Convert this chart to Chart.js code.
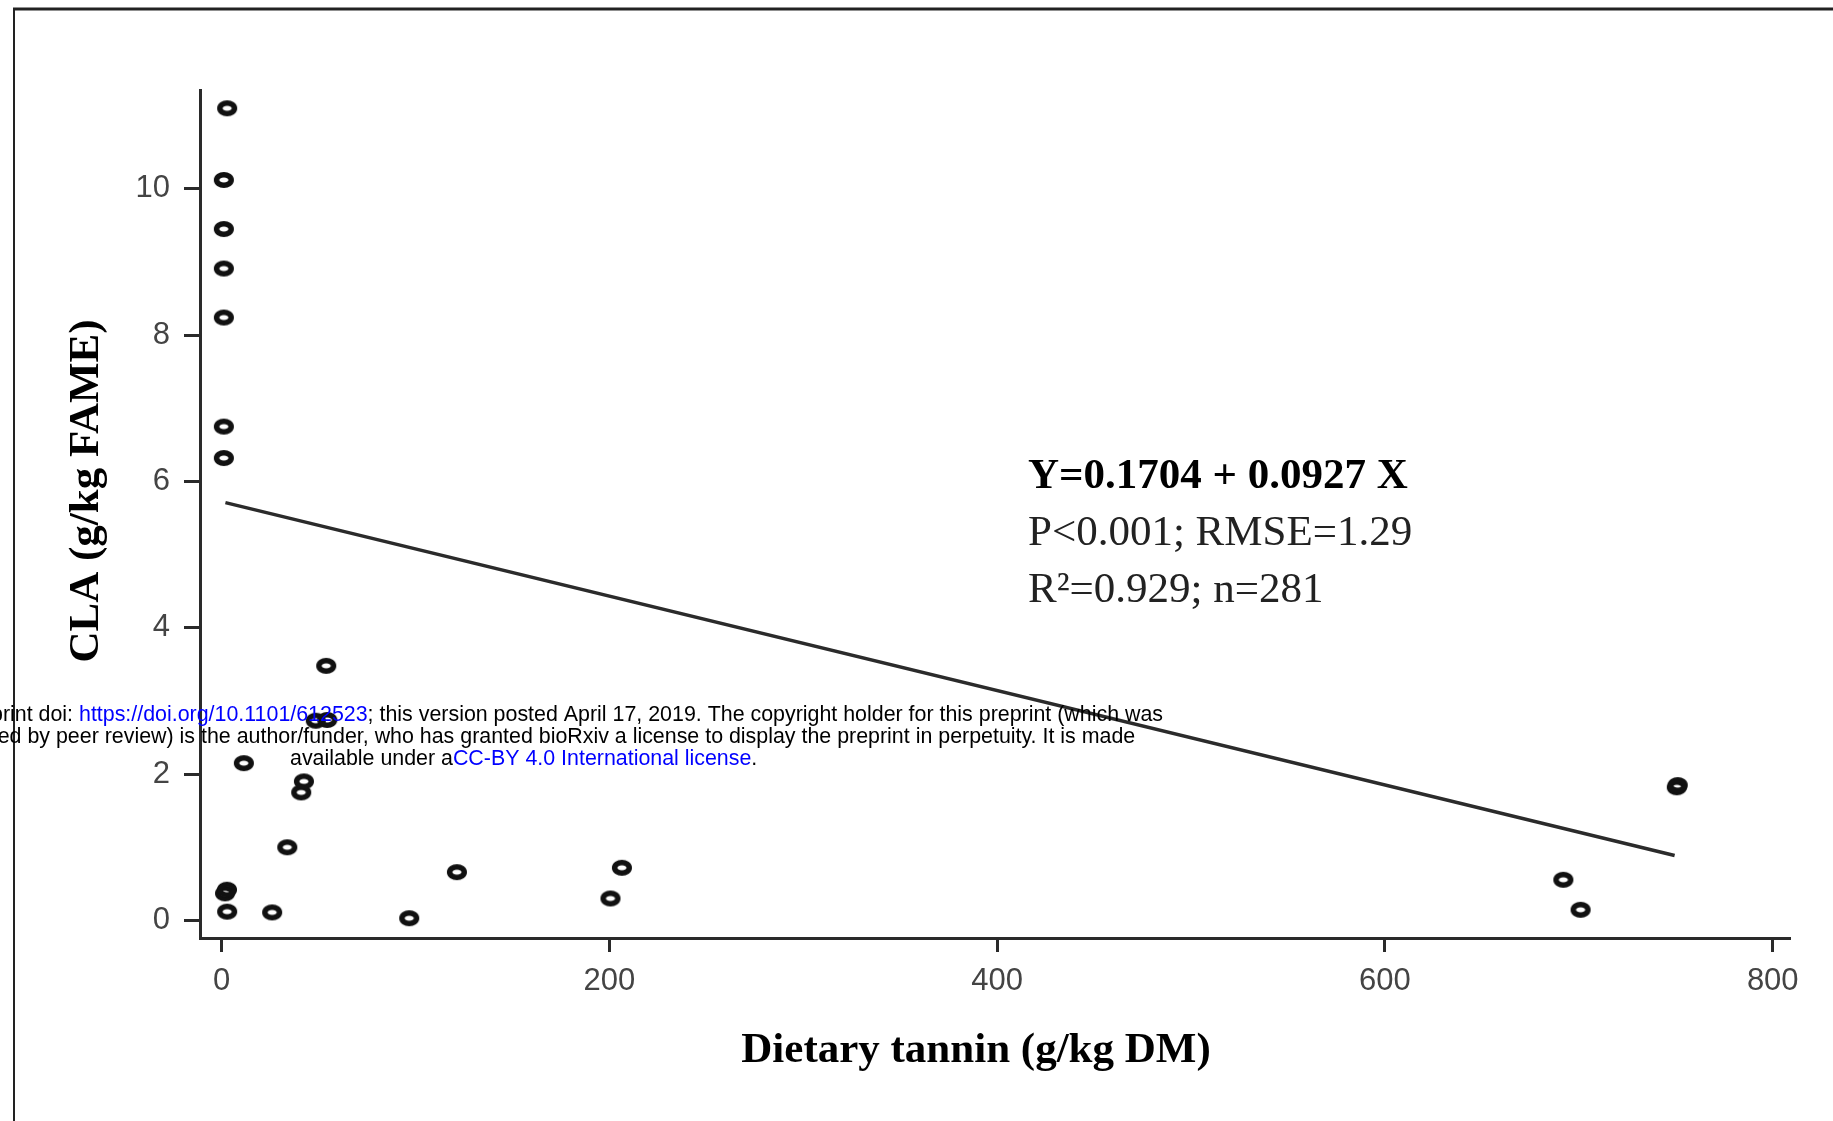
<!DOCTYPE html>
<html>
<head>
<meta charset="utf-8">
<title>CLA vs dietary tannin</title>
<script src="https://cdn.jsdelivr.net/npm/chart.js@4.4.1/dist/chart.umd.min.js"></script>
<style>
  html, body { margin: 0; padding: 0; background: #fff; }
  #wrap { width: 1833px; height: 1121px; }
</style>
</head>
<body>
<div id="wrap"><canvas id="grafico" width="1833" height="1121"></canvas></div>
<script>
// values
const tanninX = [2.9, 1.2, 1.2, 1.2, 1.2, 1.2, 1.2,
  1.8, 2.8, 2.9, 11.5, 26.1, 33.9, 41.1, 42.5, 48.6, 54.5, 54.0,
  96.8, 121.4, 200.6, 206.5, 692, 700.9, 750.5, 751];
const claY = [11.10, 10.12, 9.45, 8.91, 8.24, 6.75, 6.32,
  0.37, 0.42, 0.12, 2.15, 0.11, 1.00, 1.75, 1.90, 2.73, 2.74, 3.48,
  0.03, 0.66, 0.30, 0.72, 0.556, 0.146, 1.82, 1.85];

const fitX = [2, 749.4];
const fitY = [5.71, 0.888];

const xTicks = [0, 200, 400, 600, 800];
const yTicks = [0, 2, 4, 6, 8, 10];

const xTitle = "Dietary tannin (g/kg DM)";
const yTitle = "CLA (g/kg FAME)";
const statLines = ["Y=0.1704 + 0.0927 X", "P<0.001; RMSE=1.29", "R²=0.929; n=281"];

const BLUE = "rgb(0, 0, 255)";
const noticeLines = [
  [["bioRxiv preprint doi: ", "#000"], ["https://doi.org/10.1101/612523", BLUE],
   ["; this version posted April 17, 2019. The copyright holder for this preprint (which was", "#000"]],
  [["not certified by peer review) is ", "#000"],
   ["the author/funder, who has granted bioRxiv a license to display the preprint in perpetuity. It is made", "#000"]],
  [["available under a", "#000"], ["CC-BY 4.0 International license", BLUE], [".", "#000"]]
];

function makeMarker() {
  const c = document.createElement("canvas");
  c.width = 26;
  c.height = 22;
  const g = c.getContext("2d");
  g.beginPath();
  g.ellipse(13, 11, 7.3, 5.2, 0, 0, Math.PI * 2);
  g.lineWidth = 5.5;
  g.strokeStyle = "#111";
  g.stroke();
  return c;
}

function drawRuns(g, x, y, runs) {
  for (const [txt, cor] of runs) {
    g.fillStyle = cor;
    g.fillText(txt, x, y);
    x += g.measureText(txt).width;
  }
}

// white page with the scanned frame lines
const pagePlugin = {
  id: "page",
  beforeDraw(chart) {
    const g = chart.ctx;
    g.save();
    g.fillStyle = "#fff";
    g.fillRect(0, 0, chart.width, chart.height);
    g.strokeStyle = "#222";
    g.lineWidth = 3;
    g.beginPath();
    g.moveTo(13, 9);
    g.lineTo(chart.width, 9);
    g.stroke();
    g.lineWidth = 2;
    g.beginPath();
    g.moveTo(14, 9);
    g.lineTo(14, chart.height);
    g.stroke();
    g.restore();
  }
};

const textPlugin = {
  id: "texts",
  afterDraw(chart) {
    const g = chart.ctx;
    g.save();

    // axis titles
    g.fillStyle = "#000";
    g.font = "bold 43px 'Liberation Serif'";
    g.textAlign = "center";
    g.textBaseline = "middle";
    g.fillText(xTitle, 976, 1051);
    g.save();
    g.translate(87, 491);
    g.rotate(-Math.PI / 2);
    g.fillText(yTitle, 0, 0);
    g.restore();

    g.textBaseline = "alphabetic";
    g.textAlign = "left";

    // regression stats
    g.fillStyle = "#000";
    g.font = "bold 43px 'Liberation Serif'";
    g.fillText(statLines[0], 1028, 488);
    g.fillStyle = "#222";
    g.font = "43px 'Liberation Serif'";
    g.fillText(statLines[1], 1028, 545);
    g.fillText(statLines[2], 1028, 602);

    // bioRxiv notice laid over the figure
    g.font = "21.4px 'Liberation Sans'";
    const x1 = 79 - g.measureText(noticeLines[0][0][0]).width;
    const x2 = 201 - g.measureText(noticeLines[1][0][0]).width;
    drawRuns(g, x1, 721, noticeLines[0]);
    drawRuns(g, x2, 743, noticeLines[1]);
    drawRuns(g, 290, 765, noticeLines[2]);
    g.restore();
  }
};

const points = tanninX.map((x, i) => ({ x: x, y: claY[i] }));
const fitPoints = fitX.map((x, i) => ({ x: x, y: fitY[i] }));

const axisColor = "#2a2a2a";
const tickFont = { family: "'Liberation Sans'", size: 31 };

new Chart(document.getElementById("grafico"), {
  type: "scatter",
  data: {
    datasets: [
      {
        label: "Fit",
        type: "line",
        data: fitPoints,
        borderColor: "#2b2b2b",
        borderWidth: 3.5,
        pointRadius: 0,
        fill: false,
        order: 2
      },
      {
        label: "CLA",
        data: points,
        pointStyle: makeMarker(),
        pointRadius: 10,
        order: 1
      }
    ]
  },
  options: {
    responsive: false,
    animation: false,
    layout: { padding: { left: 0, top: 90, right: 43, bottom: 0 } },
    plugins: {
      legend: { display: false },
      tooltip: { enabled: false }
    },
    scales: {
      x: {
        type: "linear",
        min: -11.1,
        max: 808.9,
        afterBuildTicks: s => { s.ticks = xTicks.map(v => ({ value: v })); },
        afterFit: s => { s.height = 183; },
        border: { color: axisColor, width: 3 },
        grid: { drawOnChartArea: false, tickLength: 14, tickColor: axisColor, tickWidth: 3 },
        ticks: { color: "#444", font: tickFont, padding: 11, maxRotation: 0 }
      },
      y: {
        type: "linear",
        min: -0.24,
        max: 11.35,
        afterBuildTicks: s => { s.ticks = yTicks.map(v => ({ value: v })); },
        afterFit: s => { s.width = 200; },
        border: { color: axisColor, width: 3 },
        grid: { drawOnChartArea: false, tickLength: 16, tickColor: axisColor, tickWidth: 3 },
        ticks: { color: "#444", font: tickFont, padding: 14 }
      }
    }
  },
  plugins: [pagePlugin, textPlugin]
});
</script>
</body>
</html>
